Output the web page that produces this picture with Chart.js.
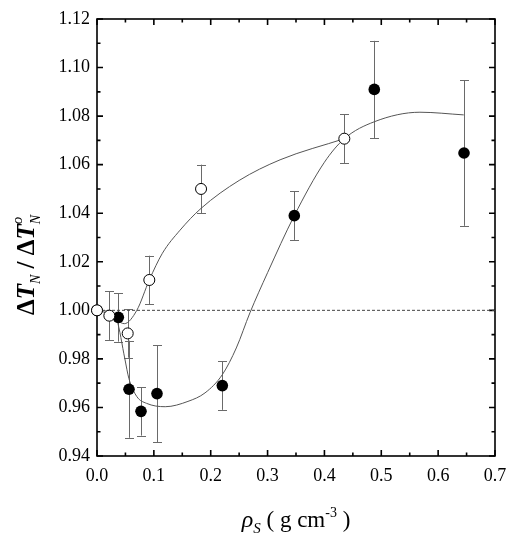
<!DOCTYPE html>
<html>
<head>
<meta charset="utf-8">
<script src="https://cdn.jsdelivr.net/npm/chart.js@4/dist/chart.umd.min.js"></script>
<style>
  html, body { margin: 0; padding: 0; background: #fff; }
</style>
</head>
<body>
<canvas id="chart" width="516" height="542"></canvas>
<script>
// measured points (filled circles)
const filledX = [0.0, 0.0375, 0.0563, 0.0774, 0.1055, 0.2204, 0.347, 0.4877, 0.6455];
const filledY = [1.000, 0.9971, 0.9675, 0.9584, 0.9657, 0.9690, 1.039, 1.091, 1.0648];
const filledErr = [0, 0.010, 0.020, 0.010, 0.020, 0.010, 0.010, 0.020, 0.030];

// measured points (open circles)
const openX = [0.0, 0.0217, 0.054, 0.092, 0.183, 0.435];
const openY = [1.000, 0.9978, 0.9905, 1.0125, 1.050, 1.0707];
const openErr = [0, 0.010, 0.010, 0.010, 0.010, 0.010];

// fitted curves
const fitFilledX = [0, 0.02, 0.035, 0.049, 0.056, 0.07, 0.087, 0.12, 0.16, 0.19, 0.2204, 0.245, 0.269, 0.30, 0.347, 0.40, 0.435, 0.488, 0.568, 0.645];
const fitFilledY = [1.000, 0.9995, 0.996, 0.980, 0.972, 0.9645, 0.9617, 0.9603, 0.9625, 0.966, 0.9735, 0.9845, 0.999, 1.0155, 1.039, 1.061, 1.0707, 1.0777, 1.0816, 1.0805];
const fitOpenX = [0, 0.022, 0.048, 0.07, 0.092, 0.115, 0.146, 0.183, 0.25, 0.322, 0.435];
const fitOpenY = [1.000, 0.9985, 0.9945, 1.000, 1.0125, 1.0235, 1.033, 1.042, 1.0535, 1.062, 1.0707];

const refLevel = 1.0;

const xTicks = [0.0, 0.1, 0.2, 0.3, 0.4, 0.5, 0.6, 0.7];
const yTicks = [0.94, 0.96, 0.98, 1.00, 1.02, 1.04, 1.06, 1.08, 1.10, 1.12];
const xMinorStep = 0.05;
const yMinorStep = 0.01;

const toPts = (xs, ys) => xs.map((x, i) => ({ x: x, y: ys[i] }));

const serif = '"Liberation Serif", "DejaVu Serif", serif';

// error bars, drawn under the circles
const errorBars = {
  id: 'errorBars',
  beforeDatasetsDraw(chart) {
    const ctx = chart.ctx;
    const xs = chart.scales.x, ys = chart.scales.y;
    ctx.save();
    ctx.strokeStyle = '#6a6a6a';
    ctx.lineWidth = 1;
    chart.data.datasets.forEach(ds => {
      if (!ds.errors) return;
      ds.data.forEach((p, i) => {
        const e = ds.errors[i];
        if (!e) return;
        const px = Math.round(xs.getPixelForValue(p.x)) + 0.5;
        const top = ys.getPixelForValue(p.y + e);
        const bot = ys.getPixelForValue(p.y - e);
        ctx.beginPath();
        ctx.moveTo(px, top); ctx.lineTo(px, bot);
        ctx.moveTo(px - 4.5, Math.round(top) + 0.5); ctx.lineTo(px + 4.5, Math.round(top) + 0.5);
        ctx.moveTo(px - 4.5, Math.round(bot) + 0.5); ctx.lineTo(px + 4.5, Math.round(bot) + 0.5);
        ctx.stroke();
      });
    });
    ctx.restore();
  }
};

// box with inward ticks on all four sides
const frame = {
  id: 'frame',
  beforeDatasetsDraw(chart) {
    const ctx = chart.ctx;
    const a = chart.chartArea;
    const xs = chart.scales.x, ys = chart.scales.y;
    ctx.save();
    ctx.strokeStyle = '#000';
    ctx.lineWidth = 1.6;
    ctx.strokeRect(a.left, a.top, a.right - a.left, a.bottom - a.top);
    ctx.beginPath();
    const nx = Math.round((xs.max - xs.min) / xMinorStep);
    for (let i = 0; i <= nx; i++) {
      const v = xs.min + i * xMinorStep;
      const px = xs.getPixelForValue(v);
      const len = i % 2 === 0 ? 6 : 3.5;
      ctx.moveTo(px, a.bottom); ctx.lineTo(px, a.bottom - len);
      ctx.moveTo(px, a.top); ctx.lineTo(px, a.top + len);
    }
    const ny = Math.round((ys.max - ys.min) / yMinorStep);
    for (let i = 0; i <= ny; i++) {
      const v = ys.min + i * yMinorStep;
      const py = ys.getPixelForValue(v);
      const len = i % 2 === 0 ? 6 : 3.5;
      ctx.moveTo(a.left, py); ctx.lineTo(a.left + len, py);
      ctx.moveTo(a.right, py); ctx.lineTo(a.right - len, py);
    }
    ctx.stroke();
    ctx.restore();
  }
};

// draws a run of text pieces with sub/superscripts
function drawRuns(ctx, runs) {
  let total = 0;
  runs.forEach(r => {
    ctx.font = r.font;
    r.w = ctx.measureText(r.t).width;
    if (!r.stack) total += r.w;
  });
  let x = -total / 2, lastX = x;
  runs.forEach(r => {
    ctx.font = r.font;
    const drawX = r.stack ? lastX : x;
    ctx.fillText(r.t, drawX, r.dy || 0);
    if (!r.stack) { lastX = x; x += r.w; }
  });
}

const axisTitles = {
  id: 'axisTitles',
  afterDraw(chart) {
    const ctx = chart.ctx;
    const a = chart.chartArea;
    ctx.save();
    ctx.fillStyle = '#000';
    ctx.textBaseline = 'alphabetic';
    ctx.textAlign = 'left';

    // x title
    ctx.save();
    ctx.translate((a.left + a.right) / 2, 527);
    drawRuns(ctx, [
      { t: 'ρ', font: 'italic 24px ' + serif },
      { t: 'S', font: 'italic 15px ' + serif, dy: 6 },
      { t: ' ( g cm', font: '23px ' + serif },
      { t: '-3', font: '14px ' + serif, dy: -10 },
      { t: ' )', font: '23px ' + serif }
    ]);
    ctx.restore();

    // y title
    ctx.save();
    ctx.translate(34, 265);
    ctx.rotate(-Math.PI / 2);
    drawRuns(ctx, [
      { t: 'Δ', font: 'bold 25px ' + serif },
      { t: 'T', font: 'bold italic 25px ' + serif },
      { t: 'N', font: 'italic 14px ' + serif, dy: 6 },
      { t: ' / ', font: 'bold 25px ' + serif },
      { t: 'Δ', font: 'bold 25px ' + serif },
      { t: 'T', font: 'bold italic 25px ' + serif },
      { t: 'N', font: 'italic 14px ' + serif, dy: 6 },
      { t: 'o', font: 'italic 15px ' + serif, dy: -12, stack: true }
    ]);
    ctx.restore();

    ctx.restore();
  }
};

new Chart(document.getElementById('chart'), {
  type: 'scatter',
  data: {
    datasets: [
      {
        label: 'open',
        data: toPts(openX, openY),
        errors: openErr,
        pointRadius: 5.5,
        pointBackgroundColor: '#fff',
        pointBorderColor: '#000',
        pointBorderWidth: 1,
        clip: false,
        order: 0
      },
      {
        label: 'filled',
        data: toPts(filledX, filledY),
        errors: filledErr,
        pointRadius: 5.8,
        pointBackgroundColor: '#000',
        pointBorderColor: '#000',
        pointBorderWidth: 0,
        clip: false,
        order: 1
      },
      {
        label: 'fit open',
        data: toPts(fitOpenX, fitOpenY),
        showLine: true,
        pointRadius: 0,
        borderColor: '#555',
        borderWidth: 1,
        cubicInterpolationMode: 'monotone',
        order: 2
      },
      {
        label: 'fit filled',
        data: toPts(fitFilledX, fitFilledY),
        showLine: true,
        pointRadius: 0,
        borderColor: '#555',
        borderWidth: 1,
        cubicInterpolationMode: 'monotone',
        order: 3
      },
      {
        label: 'reference',
        data: [{ x: xTicks[0], y: refLevel }, { x: xTicks[xTicks.length - 1], y: refLevel }],
        showLine: true,
        pointRadius: 0,
        borderColor: '#444',
        borderWidth: 1,
        borderDash: [3, 2],
        order: 4
      }
    ]
  },
  options: {
    responsive: false,
    animation: false,
    events: [],
    layout: { padding: { top: 19, right: 21, left: 0, bottom: 0 } },
    plugins: { legend: { display: false }, tooltip: { enabled: false } },
    scales: {
      x: {
        type: 'linear',
        min: xTicks[0],
        max: xTicks[xTicks.length - 1],
        afterBuildTicks: s => { s.ticks = xTicks.map(v => ({ value: v })); },
        afterFit: s => { s.height = 86; },
        grid: { display: false, drawTicks: false },
        border: { display: false },
        ticks: {
          padding: 9,
          color: '#000',
          maxRotation: 0,
          font: { family: serif, size: 18 },
          callback: v => Number(v).toFixed(1)
        }
      },
      y: {
        type: 'linear',
        min: yTicks[0],
        max: yTicks[yTicks.length - 1],
        afterBuildTicks: s => { s.ticks = yTicks.map(v => ({ value: v })); },
        afterFit: s => { s.width = 97; },
        grid: { display: false, drawTicks: false },
        border: { display: false },
        ticks: {
          padding: 7,
          color: '#000',
          font: { family: serif, size: 18 },
          callback: v => Number(v).toFixed(2)
        }
      }
    }
  },
  plugins: [errorBars, frame, axisTitles]
});
</script>
</body>
</html>
